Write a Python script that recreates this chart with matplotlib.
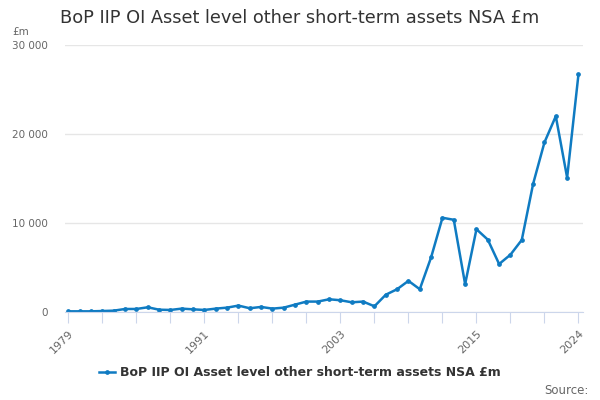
import matplotlib
matplotlib.use('Agg')
import matplotlib.pyplot as plt
import numpy as np

plt.rcParams['font.family'] = ['DejaVu Sans']

years = np.arange(1979, 2025)
values = [75, 75, 75, 110, 150, 340, 340, 530, 260, 230,
          380, 300, 230, 380, 490, 720, 420, 570, 380, 490,
          830, 1170, 1170, 1430, 1320, 1090, 1170, 640, 1940, 2560,
          3500, 2560, 6140, 10590, 10360, 3130, 9300, 8130, 5390, 6440,
          8100, 14400, 19060, 22000, 15100, 26700]
label = 'BoP IIP OI Asset level other short-term assets NSA £m'
tick_years = [1979, 1991, 2003, 2015, 2024]
line_col = '#0f7bc2'

fig = plt.figure(figsize=(6, 4), dpi=100)
ax = fig.add_axes([65/600, 1-312/400, 518/600, 267/400])

ax.plot(years, values, '-', color=line_col, linewidth=1.8,
        marker='o', markersize=2.4, label=label)

ax.set_xlim(1979 - 0.3, 2024 + 0.4)
ax.set_ylim(0, 30000)
ax.set_yticks([0, 10000, 20000, 30000])
ax.set_yticklabels(['0', '10 000', '20 000', '30 000'])
ax.set_xticks(np.arange(1979, 2025, 3), minor=False)
ax.set_xticklabels([str(y) if y in tick_years else '' for y in np.arange(1979, 2025, 3)],
                   rotation=45, ha='right', rotation_mode='anchor')

ax.grid(axis='y', color='#e6e6e6', linewidth=1)
ax.set_axisbelow(True)
for s in ['top', 'right', 'left']:
    ax.spines[s].set_visible(False)
ax.spines['bottom'].set_color('#ccd6eb')
ax.tick_params(axis='x', colors='#ccd6eb', length=8, labelcolor='#666666', labelsize=8)
ax.tick_params(axis='y', length=0, labelcolor='#666666', labelsize=7.5, pad=12)

fig.text(60/600, 1-18/400, 'BoP IIP OI Asset level other short-term assets NSA £m',
         fontsize=12.75, color='#333333', va='center', ha='left')
fig.text(12/600, 1-32/400, '£m', fontsize=7.5, color='#666666', va='center')

leg = fig.legend(loc='center', bbox_to_anchor=(300/600, 1-373/400), frameon=False,
                 prop={'weight': 'bold', 'size': 9}, handlelength=1.3, handletextpad=0.4)
for t in leg.get_texts():
    t.set_color('#333333')
fig.text(589/600, 1-390/400, 'Source:', fontsize=8.5, color='#666666', ha='right', va='center')

plt.savefig('out.png', dpi=100)
